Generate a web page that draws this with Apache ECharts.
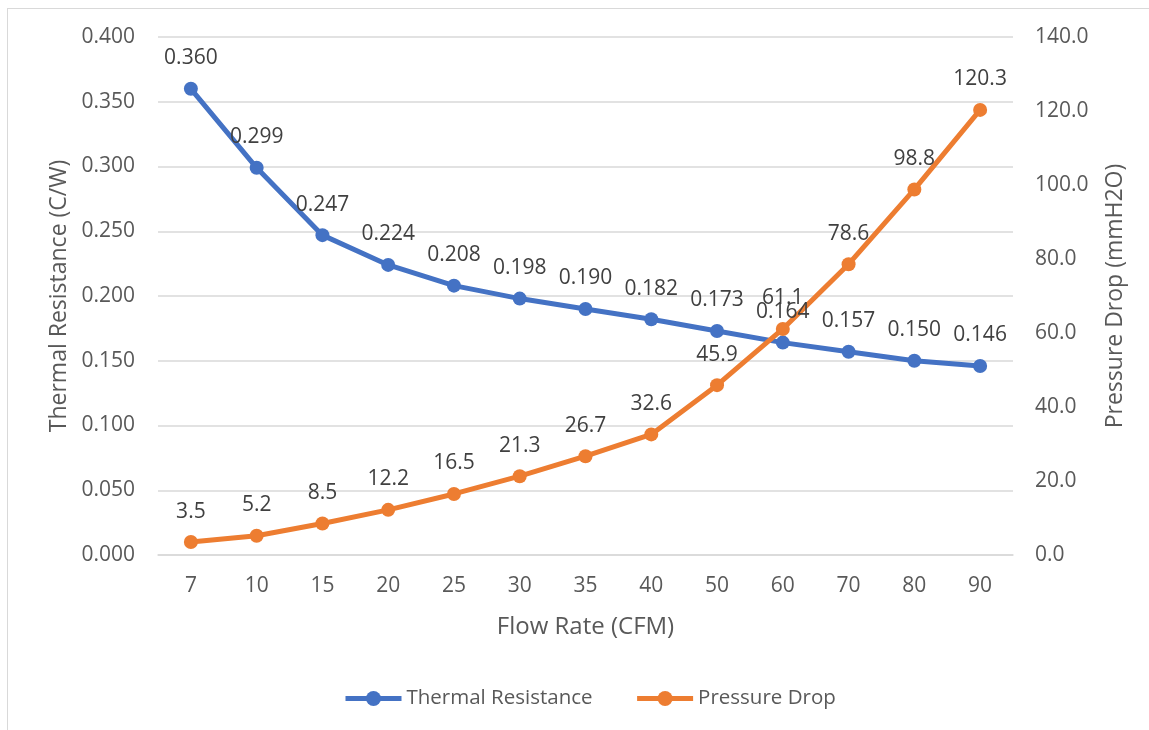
<!DOCTYPE html>
<html>
<head>
<meta charset="utf-8">
<script src="https://cdn.jsdelivr.net/npm/echarts@6/dist/echarts.min.js"></script>
<style>
  html, body { margin:0; padding:0; background:#fff; overflow:hidden; }
  #frame { position:absolute; left:7px; top:8px; width:1300px; height:900px; border-left:1px solid #D9D9D9; border-top:1px solid #D9D9D9; }
  #chart { position:absolute; left:0; top:0; width:1149px; height:730px; }
</style>
</head>
<body>
<div id="frame"></div>
<div id="chart"></div>
<script>
const categories = ['7','10','15','20','25','30','35','40','50','60','70','80','90'];
const thermalResistance = [0.360, 0.299, 0.247, 0.224, 0.208, 0.198, 0.190, 0.182, 0.173, 0.164, 0.157, 0.150, 0.146];
const pressureDrop = [3.5, 5.2, 8.5, 12.2, 16.5, 21.3, 26.7, 32.6, 45.9, 61.1, 78.6, 98.8, 120.3];

const FONT = '"Open Sans", "Noto Sans", sans-serif';
const TXT = '#595959';
const BLUE = '#4472C4';
const ORANGE = '#ED7D31';

const chart = echarts.init(document.getElementById('chart'), null, {renderer:'canvas'});
chart.setOption({
  backgroundColor: 'transparent',
  animation: false,
  textStyle: { fontFamily: FONT, color: TXT },
  grid: { left: 158, right: 136, top: 37, bottom: 175, containLabel: false },
  legend: {
    bottom: 16,
    left: 338,
    itemWidth: 56,
    itemHeight: 19,
    itemGap: 42,
    lineStyle: { width: 5 },
    textStyle: { fontFamily: FONT, fontSize: 20.5, color: TXT },
    data: ['Thermal Resistance', 'Pressure Drop']
  },
  xAxis: {
    type: 'category',
    data: categories,
    boundaryGap: true,
    name: 'Flow Rate (CFM)',
    nameLocation: 'middle',
    nameGap: 60,
    nameTextStyle: { fontFamily: FONT, fontSize: 24, color: TXT },
    axisLine: { lineStyle: { color: '#D9D9D9', width: 1.5 } },
    axisTick: { show: false },
    axisLabel: { fontFamily: FONT, fontSize: 21, color: TXT, margin: 21 }
  },
  yAxis: [
    {
      type: 'value',
      min: 0, max: 0.4, interval: 0.05,
      name: 'Thermal Resistance (C/W)',
      nameLocation: 'middle',
      nameGap: 87,
      nameTextStyle: { fontFamily: FONT, fontSize: 23, color: TXT },
      axisLine: { show: false },
      axisTick: { show: false },
      splitLine: { lineStyle: { color: '#D9D9D9', width: 1.5 } },
      axisLabel: { fontFamily: FONT, fontSize: 21, color: TXT, margin: 23, formatter: v => v.toFixed(3) }
    },
    {
      type: 'value',
      min: 0, max: 140, interval: 20,
      name: 'Pressure Drop (mmH2O)',
      nameLocation: 'middle',
      nameGap: 91,
      nameTextStyle: { fontFamily: FONT, fontSize: 23, color: TXT },
      axisLine: { show: false },
      axisTick: { show: false },
      splitLine: { show: false },
      axisLabel: { fontFamily: FONT, fontSize: 21, color: TXT, margin: 22, formatter: v => v.toFixed(1) }
    }
  ],
  series: [
    {
      name: 'Thermal Resistance',
      type: 'line',
      yAxisIndex: 0,
      data: thermalResistance,
      symbol: 'circle',
      symbolSize: 14,
      lineStyle: { color: BLUE, width: 5 },
      itemStyle: { color: BLUE },
      label: { show: true, position: 'top', distance: 13, fontFamily: FONT, fontSize: 21, color: '#404040', formatter: p => p.value.toFixed(3) }
    },
    {
      name: 'Pressure Drop',
      type: 'line',
      yAxisIndex: 1,
      data: pressureDrop,
      symbol: 'circle',
      symbolSize: 14,
      lineStyle: { color: ORANGE, width: 5 },
      itemStyle: { color: ORANGE },
      label: { show: true, position: 'top', distance: 13, fontFamily: FONT, fontSize: 21, color: '#404040', formatter: p => p.value.toFixed(1) }
    }
  ]
});
</script>
</body>
</html>
